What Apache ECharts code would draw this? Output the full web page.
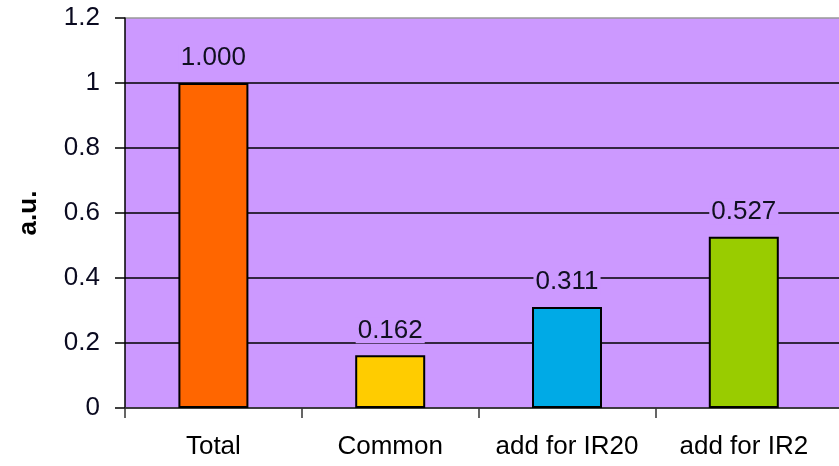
<!DOCTYPE html>
<html>
<head>
<meta charset="utf-8">
<script src="https://cdn.jsdelivr.net/npm/echarts@6/dist/echarts.min.js"></script>
<style>html,body{margin:0;padding:0;background:#fff;}#c{width:839px;height:466px;}</style>
</head>
<body>
<div id="c"></div>
<script>
const categories = ['Total', 'Common', 'add for IR20', 'add for IR2'];
const values = [1.000, 0.162, 0.311, 0.527];
const barColors = ['#FF6600', '#FFCC00', '#00AAE6', '#99CC00'];
const yTicks = [0, 0.2, 0.4, 0.6, 0.8, 1, 1.2];
const yName = 'a.u.';

// the plot continues past the right edge of the picture: one empty, clipped slot
const cats = categories.concat(['']);
const data = values.map((v, i) => ({ value: v, itemStyle: { color: barColors[i] } })).concat(['-']);

const chart = echarts.init(document.getElementById('c'), null, { renderer: 'canvas' });
const font = 'Liberation Sans, Arial, sans-serif';
const fs = 26;
chart.setOption({
  animation: false,
  backgroundColor: '#ffffff',
  grid: {
    left: 125, top: 18, bottom: 58, right: -170,
    containLabel: false,
    outerBoundsMode: 'none',
    show: true, backgroundColor: '#CC99FF', borderWidth: 0
  },
  xAxis: {
    type: 'category',
    data: cats,
    axisLine: { lineStyle: { color: '#404040', width: 1.5 } },
    axisTick: { show: true, length: 10, lineStyle: { color: '#333', width: 1.5 }, interval: (i) => i < categories.length },
    axisLabel: { color: '#000', fontSize: fs, fontFamily: font, margin: 26, interval: 0 },
    splitLine: { show: false }
  },
  yAxis: {
    type: 'value',
    min: yTicks[0], max: yTicks[yTicks.length - 1], interval: 0.2,
    name: yName,
    nameLocation: 'middle',
    nameRotate: 90,
    nameGap: 83,
    nameMoveOverlap: false,
    nameTextStyle: { color: '#000', fontSize: fs, fontWeight: 'bold', fontFamily: font },
    axisLine: { show: true, lineStyle: { color: '#000', width: 1.5 } },
    axisTick: { show: true, length: 10, lineStyle: { color: '#000', width: 1.5 } },
    axisLabel: { color: '#0a0a20', fontSize: fs, fontFamily: font, margin: 25,
      formatter: (v) => String(Math.round(v * 10) / 10) },
    splitLine: { show: true, lineStyle: { color: ['#000', '#000', '#000', '#000', '#000', '#000', '#999'], width: 1.5 } }
  },
  series: [{
    type: 'bar',
    data: data,
    barWidth: 70,
    itemStyle: { borderColor: '#000', borderWidth: 2 },
    label: {
      show: true, position: 'top', distance: 12,
      color: '#101020', fontSize: fs, fontFamily: font,
      backgroundColor: '#CC99FF', padding: [0, 2],
      formatter: (p) => p.value.toFixed(3)
    }
  }]
});
</script>
</body>
</html>
